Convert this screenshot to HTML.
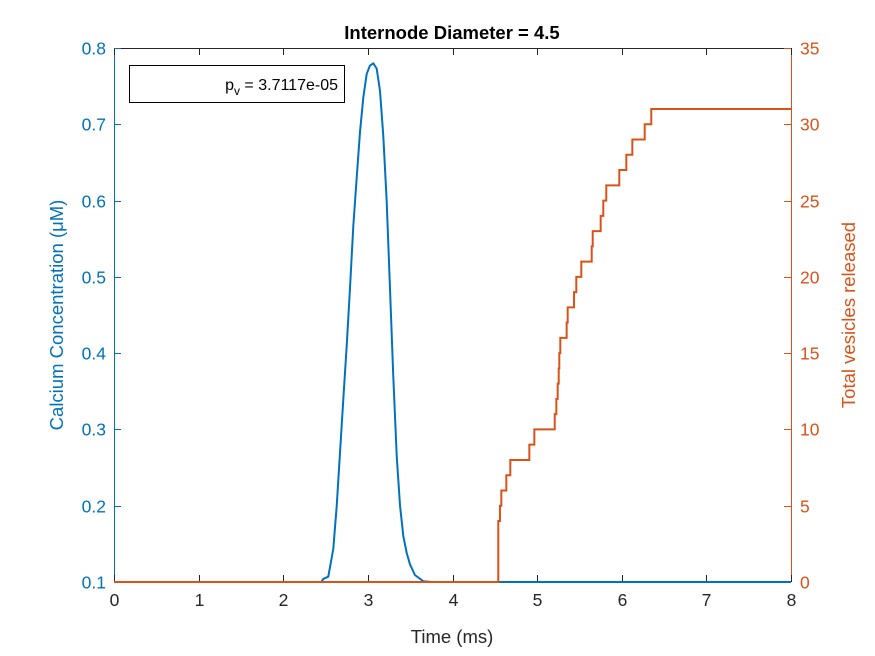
<!DOCTYPE html>
<html><head><meta charset="utf-8"><style>
body{margin:0;background:#fff}
svg{display:block;font-family:"Liberation Sans",Arial,sans-serif}
</style></head><body>
<svg id="chart" width="875" height="656" viewBox="0 0 875 656">
<rect width="875" height="656" fill="#fff"/>
<g id="axes"></g>
<g id="series"></g>
<text x="452" y="39" text-anchor="middle" font-size="18.5" font-weight="bold" fill="#000">Internode Diameter = 4.5</text>
<text x="452" y="643" text-anchor="middle" font-size="18.5" fill="#262626">Time (ms)</text>
<text transform="translate(63,315) rotate(-90)" text-anchor="middle" font-size="18.5" fill="#0072BD">Calcium Concentration (μM)</text>
<text transform="translate(855,315) rotate(-90)" text-anchor="middle" font-size="18.5" fill="#D95319">Total vesicles released</text>
<g>
<rect x="129.5" y="65.5" width="215" height="37" fill="#fff" stroke="#000" stroke-width="1"/>
<text x="338" y="90" text-anchor="end" font-size="16" fill="#000">p<tspan font-size="12" dy="5">v</tspan><tspan dy="-5"> = 3.7117e-05</tspan></text>
</g>
</svg>
<script>
const xTicks=[0,1,2,3,4,5,6,7,8];
const leftTicks=[0.1,0.2,0.3,0.4,0.5,0.6,0.7,0.8];
const leftTickLabels=["0.1","0.2","0.3","0.4","0.5","0.6","0.7","0.8"];
const rightTicks=[0,5,10,15,20,25,30,35];
const caTime=[0,2.45,2.473,2.532,2.591,2.632,2.671,2.710,2.750,2.789,2.828,2.868,2.907,2.946,2.986,3.025,3.064,3.104,3.143,3.182,3.222,3.261,3.300,3.341,3.380,3.419,3.459,3.498,3.557,3.655,3.75,8];
const caValue=[0.1,0.1,0.104,0.107,0.143,0.20,0.27,0.34,0.41,0.486,0.567,0.63,0.69,0.735,0.766,0.777,0.78,0.773,0.744,0.685,0.60,0.486,0.37,0.265,0.20,0.16,0.138,0.123,0.109,0.101,0.1,0.1];
const stepTime=[4.541,4.561,4.577,4.636,4.683,4.908,4.967,5.208,5.227,5.243,5.255,5.262,5.274,5.349,5.361,5.436,5.463,5.522,5.645,5.657,5.751,5.782,5.817,5.971,6.054,6.125,6.271,6.349];
const stepCount=[4,5,6,7,8,9,10,11,12,13,14,15,16,17,18,19,20,21,22,23,24,25,26,27,28,29,30,31];

const X0=114,X1=791,Y0=582,Y1=48;
const xs=t=>X0+(t-0)/8*(X1-X0);
const yl=v=>Y0-(v-0.1)/0.7*(Y0-Y1);
const yr=v=>Y0-v/35*(Y0-Y1);
const NS='http://www.w3.org/2000/svg';
const axes=document.getElementById('axes'),series=document.getElementById('series');
function mk(tag,attrs,parent){const e=document.createElementNS(NS,tag);for(const k in attrs)e.setAttribute(k,attrs[k]);parent.appendChild(e);return e;}

let l=mk('line',{x1:X0,y1:Y1+.5,x2:X1,y2:Y1+.5,stroke:'#262626','stroke-width':1},axes);


l=mk('line',{x1:X0,y1:Y0+.5,x2:X1,y2:Y0+.5,stroke:'#262626','stroke-width':1},axes);


l=mk('line',{x1:X0+.5,y1:Y1,x2:X0+.5,y2:Y0,stroke:'#0072BD','stroke-width':1},axes);


l=mk('line',{x1:X1+.5,y1:Y1,x2:X1+.5,y2:Y0,stroke:'#D95319','stroke-width':1},axes);



xTicks.forEach(t=>{const x=Math.round(xs(t))+.5;
 let a=mk('line',{x1:x,y1:Y0,x2:x,y2:Y0-7,stroke:'#262626'},axes);
 
 
 a=mk('line',{x1:x,y1:Y1,x2:x,y2:Y1+7,stroke:'#262626'},axes);
 
 
 const tx=mk('text',{x:x,y:Y0+24,'text-anchor':'middle','font-size':17.5,fill:'#262626'},axes);tx.textContent=String(t);
 
 
});
leftTicks.forEach((v,i)=>{const y=Math.round(yl(v))+.5;
 const a=mk('line',{x1:X0,y1:y,x2:X0+7,y2:y,stroke:'#0072BD'},axes);
 
 
 const tx=mk('text',{x:X0-8,y:y+6,'text-anchor':'end','font-size':17.5,fill:'#0072BD'},axes);tx.textContent=leftTickLabels[i];
 
 
});
rightTicks.forEach(v=>{const y=Math.round(yr(v))+.5;
 const a=mk('line',{x1:X1-7,y1:y,x2:X1,y2:y,stroke:'#D95319'},axes);
 
 
 const tx=mk('text',{x:X1+9,y:y+6,'text-anchor':'start','font-size':17.5,fill:'#D95319'},axes);tx.textContent=String(v);
 
 
});

const cd=caTime.map((t,i)=>(i?'L':'M')+xs(t).toFixed(2)+','+yl(caValue[i]).toFixed(2)).join(' ');
const cp=mk('path',{d:cd,fill:'none',stroke:'#0072BD','stroke-width':2,'stroke-linejoin':'round'},series);



let d='M'+xs(0)+','+yr(0);let prev=0;
stepTime.forEach((t,i)=>{d+=' L'+xs(t)+','+yr(prev)+' L'+xs(t)+','+yr(stepCount[i]);prev=stepCount[i];});
d+=' L'+xs(8)+','+yr(prev);
const sp=mk('path',{d:d,fill:'none',stroke:'#D95319','stroke-width':2},series);


</script>
</body></html>
